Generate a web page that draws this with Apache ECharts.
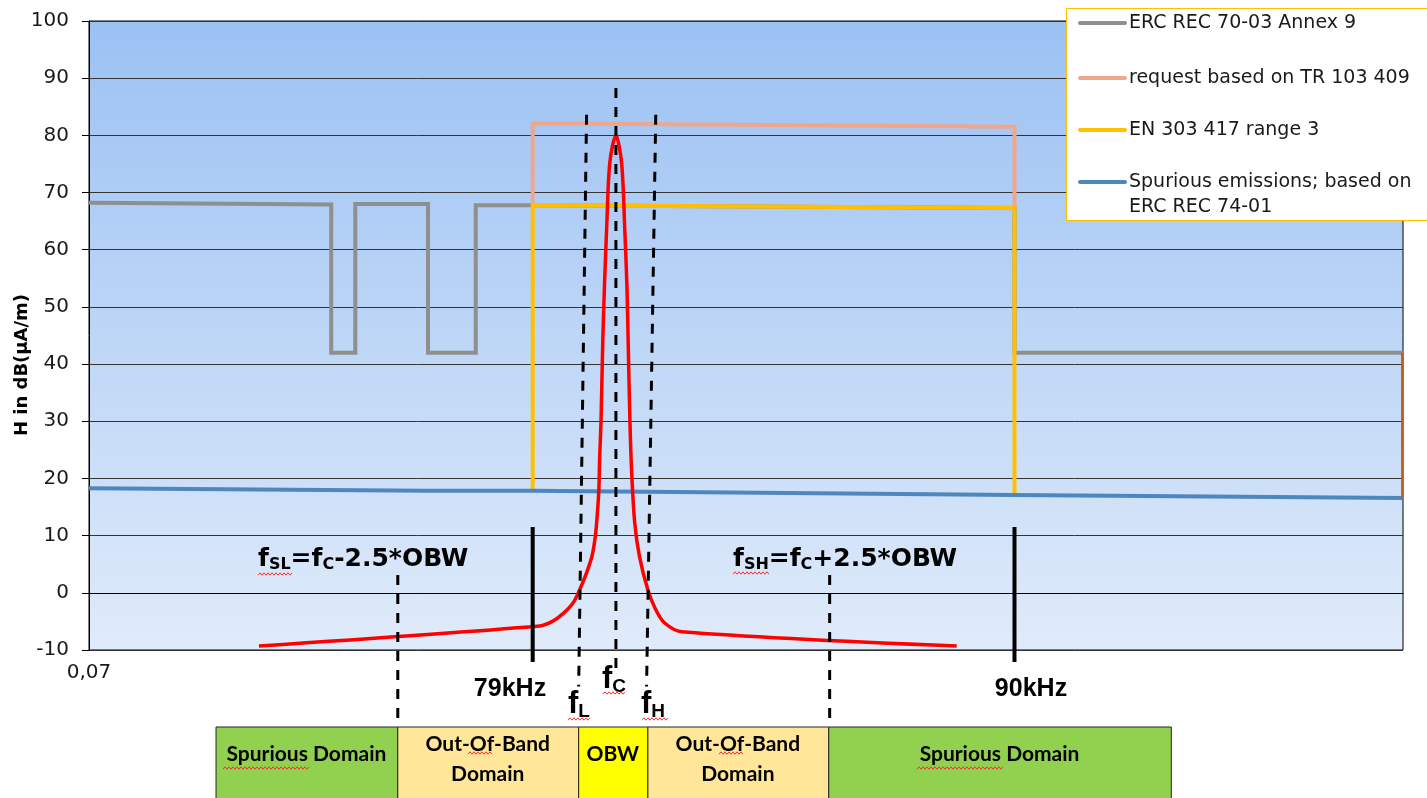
<!DOCTYPE html>
<html>
<head>
<meta charset="utf-8">
<script src="https://cdn.jsdelivr.net/npm/echarts@6/dist/echarts.min.js"></script>
<style>
  html, body { margin: 0; padding: 0; background: #ffffff; }
  #chart { width: 1427px; height: 798px; }
</style>
</head>
<body>
<div id="chart"></div>
<script>
// ---- data (frequency in kHz, field strength H in dB(µA/m)) ----
const seriesNames = [
  'ERC REC 70-03 Annex 9',
  'request based on TR 103 409',
  'EN 303 417 range 3',
  'Spurious emissions; based on\nERC REC 74-01'
];
const freqMin = 68.87;
const freqMax = 98.87;
const yTicks = { min: -10, max: 100, step: 10 };
const xStartLabel = '0,07';

const ercAnnex9 = [
  [68.87, 68.2], [74.40, 67.9], [74.40, 42], [74.95, 42], [74.95, 68],
  [76.61, 68], [76.61, 42], [77.70, 42], [77.70, 67.8], [79, 67.8],
  [90, 67.3], [90, 42], [98.87, 42]
];
const trRequest = [[79, 68], [79, 82.1], [90, 81.5], [90, 67.5]];
const en303417 = [[79, 18], [79, 67.8], [90, 67.3], [90, 17.1]];
const spuriousLimit = [[68.87, 18.3], [76.6, 17.85], [79, 17.85], [90, 17.1], [98.87, 16.6]];
const rightEdgeStep = [[98.85, 42], [98.85, 16.6]];

const emission = [
  [72.75, -9.3], [79.16, -5.8], [79.45, -5.0], [79.70, -3.6], [79.92, -1.8], [80.07, 0.5],
  [80.23, 3.5], [80.35, 6.3], [80.42, 9.3], [80.46, 12.2], [80.51, 18],
  [80.53, 23.8], [80.56, 30], [80.60, 44], [80.64, 54], [80.69, 64],
  [80.76, 75.2], [80.90, 80], [81.03, 75.2], [81.10, 64], [81.15, 54],
  [81.18, 44], [81.22, 30], [81.26, 21], [81.33, 12.2], [81.44, 6.3],
  [81.63, 0.5], [81.80, -2.8], [82.00, -5.2], [82.40, -6.8], [88.68, -9.3]
];

// dashed guides: fc, fL, fH, fSL, fSH
const guideFc = [[80.90, 88.3], [80.90, -13.2]];
const guideFl = [[80.23, 83.6], [80.05, -16.4]];
const guideFh = [[81.81, 83.6], [81.60, -16.4]];
const guideFsl = [[75.92, 3.1], [75.92, -23.4]];
const guideFsh = [[85.78, 3.1], [85.78, -23.4]];

// band markers at 79 kHz and 90 kHz
const marker79 = [[79, 11.5], [79, -12.1]];
const marker90 = [[90, 11.5], [90, -12.1]];

// domain bands below the axis
const domainEdges = [71.77, 75.92, 80.05, 81.63, 85.76, 93.58];
const domainLabels = ['Spurious Domain', 'Out-Of-Band\nDomain', 'OBW', 'Out-Of-Band\nDomain', 'Spurious Domain'];
const domainKinds = ['spur', 'oob', 'obw', 'oob', 'spur'];

// ---- styling ----
const colors = {
  grey: '#8f8f8f', pink: '#f0a68b', yellow: '#ffc000', blue: '#4e86be',
  red: '#ff0000', orange: '#c55a11', text: '#1a1a1a'
};
const domainFill = { spur: '#92d050', oob: '#ffe699', obw: '#ffff00' };

const chart = echarts.init(document.getElementById('chart'), null, { renderer: 'canvas' });

function lineSeries(data, color, width, z, extra) {
  return Object.assign({
    type: 'line', data: data, symbol: 'none', clip: false, z: z,
    lineStyle: { color: color, width: width, cap: 'butt', join: 'miter' },
    emphasis: { disabled: true }, silent: true, animation: false
  }, extra || {});
}

function guide(data) {
  return lineSeries(data, '#000000', 3, 10, {
    lineStyle: { color: '#000000', width: 3, type: [10, 9], cap: 'butt' }
  });
}

const series = [
  lineSeries(ercAnnex9, colors.grey, 4, 2),
  lineSeries(trRequest, colors.pink, 4, 3),
  lineSeries(en303417, colors.yellow, 4, 4),
  lineSeries(spuriousLimit, colors.blue, 4, 5),
  lineSeries(rightEdgeStep, colors.orange, 2, 5),
  lineSeries(emission, colors.red, 3.5, 6, { smooth: 0.3, lineStyle: { color: colors.red, width: 3.5, join: 'round' } }),
  guide(guideFc), guide(guideFl), guide(guideFh), guide(guideFsl), guide(guideFsh),
  lineSeries(marker79, '#000000', 4, 9),
  lineSeries(marker90, '#000000', 4, 9),
  {
    type: 'custom', clip: false, silent: true, animation: false, z: 1,
    data: domainLabels.map((lbl, i) => [domainEdges[i], domainEdges[i + 1], i]),
    encode: { x: [0, 1] },
    renderItem: function (params, api) {
      const i = api.value(2);
      const x0 = api.coord([api.value(0), 0])[0];
      const x1 = api.coord([api.value(1), 0])[0];
      const cs = params.coordSys;
      const top = cs.y + cs.height + 77;
      return {
        type: 'rect',
        shape: { x: x0, y: top, width: x1 - x0, height: 80 },
        style: { fill: domainFill[domainKinds[i]], stroke: '#262626', lineWidth: 1 },
        textContent: {
          style: {
            text: domainLabels[i], fill: '#000000',
            font: 'bold 21px Lato, "Open Sans", sans-serif',
            lineHeight: 30, align: 'center', verticalAlign: 'middle'
          }
        },
        textConfig: { position: [(x1 - x0) / 2, domainLabels[i].indexOf('\n') >= 0 ? 33 : 28] }
      };
    }
  }
];

// legend drawn as graphics
const legendColors = [colors.grey, colors.pink, colors.yellow, colors.blue];
const legendRows = [23, 78, 130, 182];
const legendGraphics = [{
  type: 'rect', z: 100,
  shape: { x: 1066.5, y: 8.5, width: 420, height: 212 },
  style: { fill: '#ffffff', stroke: '#ffc000', lineWidth: 1 }
}];
seriesNames.forEach((name, i) => {
  legendGraphics.push({
    type: 'line', z: 101,
    shape: { x1: 1080, y1: legendRows[i], x2: 1125, y2: legendRows[i] },
    style: { stroke: legendColors[i], lineWidth: 4, lineCap: 'round' }
  });
  legendGraphics.push({
    type: 'text', z: 101, x: 1129, y: legendRows[i] - 12.5,
    style: {
      text: name, fill: colors.text, font: '19px "DejaVu Sans", sans-serif',
      lineHeight: 25, verticalAlign: 'top'
    }
  });
});

const boldMain = { fontFamily: 'DejaVu Sans', fontWeight: 'bold', fontSize: 25, lineHeight: 30, verticalAlign: 'middle', color: '#000' };
const boldSub = { fontFamily: 'DejaVu Sans', fontWeight: 'bold', fontSize: 16, lineHeight: 30, verticalAlign: 'bottom', color: '#000', padding: [0, 0, 1, 0] };
const fMain = { fontFamily: 'Liberation Sans', fontWeight: 'bold', fontSize: 31, lineHeight: 34, verticalAlign: 'middle', color: '#000' };
const fSub = { fontFamily: 'Liberation Sans', fontWeight: 'bold', fontSize: 19, lineHeight: 34, verticalAlign: 'bottom', color: '#000' };

const annotations = [
  { type: 'text', x: 258, y: 559, z: 50, style: { text: '{m|f}{s|SL}{m|=f}{s|C}{m|-2.5*OBW}', rich: { m: boldMain, s: boldSub }, verticalAlign: 'middle' } },
  { type: 'text', x: 733, y: 559, z: 50, style: { text: '{m|f}{s|SH}{m|=f}{s|C}{m|+2.5*OBW}', rich: { m: boldMain, s: boldSub }, verticalAlign: 'middle' } },
  { type: 'text', x: 510, y: 689, z: 50, style: { text: '79kHz', font: 'bold 25px "Liberation Sans", sans-serif', fill: '#000', align: 'center', verticalAlign: 'middle' } },
  { type: 'text', x: 1031, y: 689, z: 50, style: { text: '90kHz', font: 'bold 25px "Liberation Sans", sans-serif', fill: '#000', align: 'center', verticalAlign: 'middle' } },
  { type: 'text', x: 602, y: 679, z: 50, style: { text: '{m|f}{s|C}', rich: { m: fMain, s: fSub }, verticalAlign: 'middle' } },
  { type: 'text', x: 568, y: 704, z: 50, style: { text: '{m|f}{s|L}', rich: { m: fMain, s: fSub }, verticalAlign: 'middle' } },
  { type: 'text', x: 641, y: 704, z: 50, style: { text: '{m|f}{s|H}', rich: { m: fMain, s: fSub }, verticalAlign: 'middle' } },
  { type: 'text', x: 22, y: 365, z: 50, rotation: Math.PI / 2, style: { text: 'H in dB(µA/m)', font: 'bold 18px "DejaVu Sans", sans-serif', fill: '#000', align: 'center', verticalAlign: 'middle' } }
];

// red spell-check squiggles under abbreviations and words
function squiggle(x0, x1, y) {
  const pts = [];
  for (let x = x0, k = 0; x <= x1; x += 2, k++) pts.push([x, y + (k % 2 ? -1.2 : 1.2)]);
  return {
    type: 'polyline', z: 60, shape: { points: pts },
    style: { stroke: '#ff3030', lineWidth: 1, fill: null }
  };
}
const squiggles = [
  squiggle(258, 293, 574), squiggle(733, 770, 573),
  squiggle(603, 626, 693), squiggle(568, 590, 719), squiggle(642, 668, 719),
  squiggle(223, 310, 768), squiggle(468, 493, 753),
  squiggle(719, 744, 753), squiggle(917, 1004, 768)
];

chart.setOption({
  animation: false,
  grid: {
    left: 89, right: 24, top: 21, bottom: 148,
    show: true, borderColor: '#000000', borderWidth: 1,
    backgroundColor: {
      type: 'linear', x: 0, y: 0, x2: 0, y2: 1,
      colorStops: [{ offset: 0, color: '#9bc1f3' }, { offset: 1, color: '#e0ebfa' }]
    }
  },
  xAxis: {
    type: 'value', min: freqMin, max: freqMax, interval: freqMax - freqMin,
    axisLine: { show: true, lineStyle: { color: '#000', width: 1 } },
    axisTick: { show: true, length: 5, lineStyle: { color: '#000' } },
    splitLine: { show: false },
    axisLabel: {
      margin: 13, color: colors.text, fontSize: 20, fontFamily: 'DejaVu Sans',
      showMaxLabel: false,
      formatter: v => (Math.abs(v - freqMin) < 1e-6 ? xStartLabel : '')
    }
  },
  yAxis: {
    type: 'value', min: yTicks.min, max: yTicks.max, interval: yTicks.step,
    axisLine: { show: true, lineStyle: { color: '#000', width: 1 } },
    axisTick: { show: true, length: 7, lineStyle: { color: '#000' } },
    splitLine: { show: true, lineStyle: { color: '#333333', width: 1 } },
    axisLabel: { margin: 20, color: colors.text, fontSize: 20, fontFamily: 'DejaVu Sans' }
  },
  series: series,
  graphic: legendGraphics.concat(annotations, squiggles)
});
</script>
</body>
</html>
